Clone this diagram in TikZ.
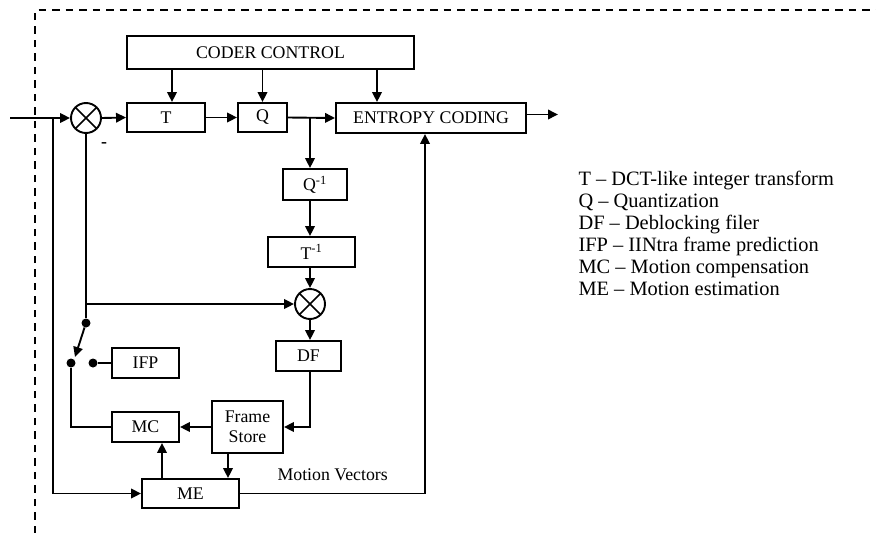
\documentclass[tikz,border=0pt]{standalone}
\usepackage{fontspec}
\setmainfont{Liberation Serif}
\usetikzlibrary{arrows.meta}
\begin{document}
\begin{tikzpicture}[x=1pt,y=-1pt,
  every node/.style={font=\fontsize{17.8}{20.5}\selectfont},
  blk/.style={draw, line width=1.9pt, inner sep=0pt, align=center},
  wire/.style={line width=1.9pt},
  arr/.style={wire, -{Triangle[length=10pt,width=9.5pt]}},
  sumnode/.style={circle, draw, line width=1.9pt, minimum size=30pt, inner sep=0pt,
    path picture={\draw[line width=1.6pt] (path picture bounding box.north west) -- (path picture bounding box.south east)
      (path picture bounding box.north east) -- (path picture bounding box.south west);}},
  dot/.style={circle, fill, inner sep=0pt, minimum size=9pt},
  legend/.style={anchor=base west, font=\fontsize{20.4}{22}\selectfont},
]
\useasboundingbox (0,0) rectangle (876,533);
\draw[line width=1.6pt, dash pattern=on 7.5pt off 6pt] (35,533) -- (35,10) -- (876,10);

% blocks
\node[blk, minimum width=287pt, minimum height=33pt] (cc) at (270.5,52.5) {CODER CONTROL};
\node[blk, minimum width=78pt, minimum height=29pt] (T) at (166,117.5) {T};
\node[blk, minimum width=49pt, minimum height=29pt] (Q) at (262.5,117.5) {Q};
\node[blk, minimum width=190pt, minimum height=30pt] (ec) at (431,118) {ENTROPY CODING};
\node[sumnode] (s1) at (86,118) {};
\node[blk, minimum width=64pt, minimum height=31pt] (qi) at (315,184.5) {Q\textsuperscript{-1}};
\node[blk, minimum width=87pt, minimum height=30pt] (ti) at (311.5,252) {T\textsuperscript{-1}};
\node[sumnode] (s2) at (310,304) {};
\node[blk, minimum width=65pt, minimum height=30pt] (df) at (308.5,356) {DF};
\node[blk, minimum width=71pt, minimum height=52pt] (fs) at (247.5,427) {Frame\\Store};
\node[blk, minimum width=67pt, minimum height=30pt] (mc) at (145.5,427) {MC};
\node[blk, minimum width=97pt, minimum height=29pt] (me) at (190.5,493.5) {ME};
\node[blk, minimum width=67pt, minimum height=30pt] (ifp) at (145.5,363) {IFP};
\node[dot] (d1) at (86,323) {};
\node[dot] (d2) at (71,363) {};
\node[dot] (d3) at (93,363) {};

% labels
\node (minus) at (104,145.5) {\textbf{-}};
\node[anchor=base west] (mvl) at (274,480) {Motion Vectors};
\foreach \txt [count=\i] in {T -- DCT-like integer transform, Q -- Quantization, DF -- Deblocking filer,
  IFP -- IINtra frame prediction, MC -- Motion compensation, ME -- Motion estimation}
  \node[legend] (l\i) at (575,{185+22*(\i-1)}) {\txt};

% coordinates
\coordinate (in) at (10,118);
\coordinate (br) at (53,118);
\coordinate (j1) at (86,304);
\coordinate (bq) at (310,117.5);
\coordinate (out) at (558,114.5);
\coordinate (mv) at (425,493.5);
\coordinate (sw) at (75,357);

% connectors
\draw[wire] (in) -- (br);
\draw[arr] (br) -- (s1.west);
\draw[arr] (s1.east) -- (T.west);
\draw[arr] (T.east) -- (Q.west);
\draw[arr] (Q.east) -- (ec.west);
\draw[arr] (ec.east |- out) -- (out);
\draw[arr] ([xshift=6pt]T.north |- cc.south) -- ([xshift=6pt]T.north);
\draw[arr] (Q.north |- cc.south) -- (Q.north);
\draw[arr] ([xshift=-54pt]ec.north |- cc.south) -- ([xshift=-54pt]ec.north);
\draw[arr] (bq) -- (bq |- qi.north);
\draw[arr] (bq |- qi.south) -- (bq |- ti.north);
\draw[arr] (bq |- ti.south) -- (s2.north);
\draw[arr] (s2.south) -- (s2.south |- df.north);
\draw[arr] (bq |- df.south) -- (bq |- fs.east) -- (fs.east);
\draw[arr] (fs.west) -- (mc.east);
\draw[arr] ([xshift=-19.5pt]fs.south) -- ([xshift=-19.5pt]fs.south |- me.north);
\draw[arr] ([xshift=-28.5pt]me.north) -- ([xshift=-28.5pt]me.north |- mc.south);
\draw[arr] (br) -- (br |- me.west) -- (me.west);
\draw[arr] (me.east) -- (mv) -- (mv |- ec.south);
\draw[wire] (mc.west) -- (mc.west -| d2) -- (d2);
\draw[wire] (d3) -- (ifp.west);
\draw[wire] (s1.south) -- (d1);
\draw[arr] (j1) -- (s2.west);
\draw[arr] (d1) -- (sw);
\end{tikzpicture}
\end{document}
